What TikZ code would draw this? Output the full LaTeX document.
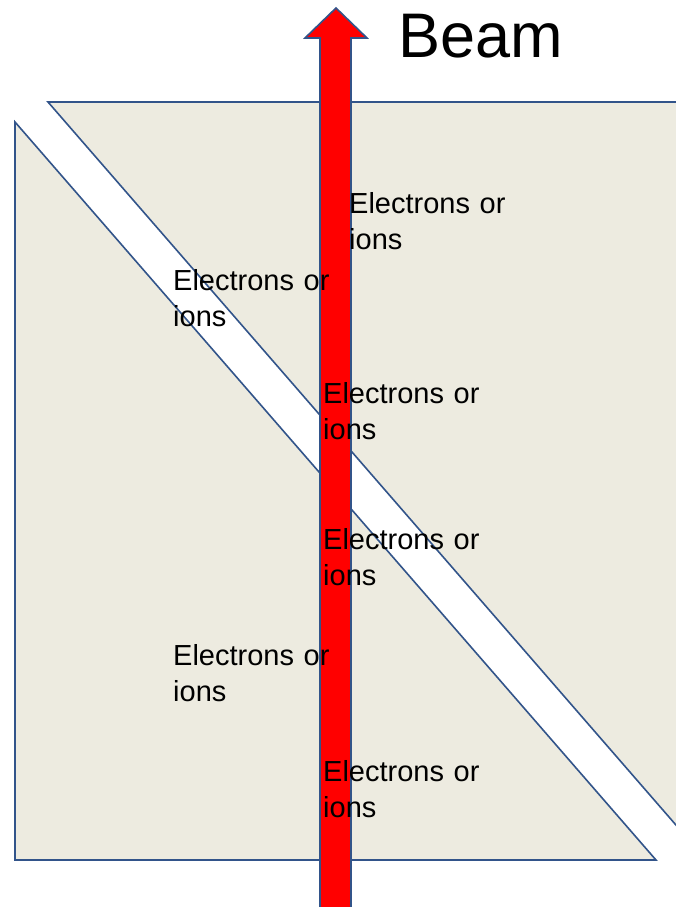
\documentclass[tikz,border=0pt]{standalone}
\usepackage{fontspec}
\setmainfont{Liberation Sans}
\definecolor{platefill}{RGB}{237,235,224}
\definecolor{edgeblue}{RGB}{50,84,138}
\definecolor{beamred}{RGB}{255,0,0}
\begin{document}
\begin{tikzpicture}[x=1pt,y=-1pt,
  plate/.style={fill=platefill,draw=edgeblue,line width=1.6pt,line join=miter},
  beamarrow/.style={fill=beamred,draw=edgeblue,line width=1.6pt,line join=miter},
  carrier/.style={anchor=base west,inner sep=0pt,text width=200pt,align=left,
    font=\fontsize{29}{36}\selectfont},
  beamlabel/.style={anchor=base west,inner sep=0pt,font=\fontsize{63}{72}\selectfont}]
  \useasboundingbox (0,0) rectangle (676,907);
  \clip (0,0) rectangle (676,907);
  % lower-left plate
  \draw[plate] (15,122) -- (15,860) -- (656,860) -- cycle;
  % upper-right plate, parallel gap between the two
  \draw[plate] (48,102) -- (700,102) -- (700,852.7) -- cycle;
  % beam arrow
  \draw[beamarrow] (320,920) -- (320,38) -- (305,38) -- (336,8)
    -- (367,38) -- (351,38) -- (351,920) -- cycle;
  \node[beamlabel] (beam) at (398,57) {Beam};
  % charge carrier labels
  \node[carrier] (c1) at (349,213) {Electrons or\\ions};
  \node[carrier] (c2) at (173,290) {Electrons or\\ions};
  \node[carrier] (c3) at (323,403) {Electrons or\\ions};
  \node[carrier] (c4) at (323,549) {Electrons or\\ions};
  \node[carrier] (c5) at (173,665) {Electrons or\\ions};
  \node[carrier] (c6) at (323,781) {Electrons or\\ions};
\end{tikzpicture}
\end{document}
